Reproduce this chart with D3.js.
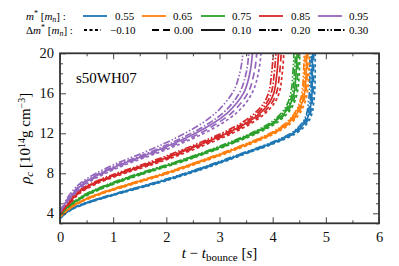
<!DOCTYPE html>
<html>
<head>
<meta charset="utf-8">
<script src="https://cdn.jsdelivr.net/npm/d3@7"></script>
<style>
  body { margin: 0; background: #fff; }
  .axis path { display: none; }
  .axis line { stroke: #444; stroke-width: 1; }
</style>
</head>
<body>
<div id="chart"></div>
<script>
var svgWidth = 399;
var svgHeight = 266;
var serif = "'Liberation Serif'";

var margin = { top: 53.3, right: 20, bottom: 43, left: 60 };
var width = 379 - margin.left;
var height = 223.3 - margin.top;

// effective masses (colours) and mass splittings (line styles)
var masses = ["0.55", "0.65", "0.75", "0.85", "0.95"];
var deltas = ["\u22120.10", "0.00", "0.10", "0.20", "0.30"];
var colors = ["#1f77b4", "#ff7f0e", "#2ca02c", "#d62728", "#9467bd"];
var dashes = ["3,2.5", "7,4", null, "7,2,1.5,2", "7,2,1.5,2,1.5,2"];

// central density at bounce (t = 0), one per mass
var rhoStart = [3.5, 3.65, 3.8, 3.95, 4.1];

var rhoGrid = [4.5, 5, 6, 7, 8, 9, 10, 11, 12, 13, 14, 15, 16, 18, 20];

// time after bounce [s] at each rhoGrid level, rows = deltas
var t055 = [
  [0.27, 0.51, 1.14, 1.83, 2.45, 3.00, 3.52, 4.04, 4.44, 4.65, 4.74, 4.77, 4.79, 4.80, 4.80],
  [0.26, 0.50, 1.12, 1.80, 2.42, 2.97, 3.49, 4.01, 4.41, 4.62, 4.71, 4.74, 4.76, 4.77, 4.77],
  [0.25, 0.48, 1.10, 1.78, 2.40, 2.95, 3.47, 3.99, 4.39, 4.60, 4.69, 4.72, 4.74, 4.745, 4.75],
  [0.24, 0.47, 1.08, 1.75, 2.37, 2.92, 3.44, 3.96, 4.36, 4.57, 4.66, 4.70, 4.72, 4.725, 4.73],
  [0.23, 0.45, 1.06, 1.73, 2.35, 2.90, 3.42, 3.94, 4.34, 4.55, 4.64, 4.67, 4.69, 4.70, 4.70]
];
var t065 = [
  [0.20, 0.35, 0.82, 1.43, 2.05, 2.60, 3.13, 3.62, 4.05, 4.34, 4.51, 4.60, 4.65, 4.68, 4.69],
  [0.19, 0.34, 0.80, 1.40, 2.02, 2.57, 3.10, 3.59, 4.02, 4.31, 4.48, 4.57, 4.62, 4.65, 4.66],
  [0.18, 0.33, 0.78, 1.38, 2.00, 2.55, 3.08, 3.57, 4.00, 4.29, 4.46, 4.55, 4.60, 4.63, 4.64],
  [0.17, 0.32, 0.76, 1.35, 1.97, 2.52, 3.05, 3.54, 3.97, 4.26, 4.43, 4.52, 4.57, 4.60, 4.61],
  [0.16, 0.31, 0.74, 1.33, 1.95, 2.50, 3.03, 3.52, 3.95, 4.24, 4.41, 4.50, 4.55, 4.58, 4.59]
];
var t075 = [
  [0.13, 0.26, 0.59, 1.05, 1.61, 2.21, 2.76, 3.26, 3.71, 4.06, 4.28, 4.40, 4.46, 4.50, 4.51],
  [0.12, 0.25, 0.57, 1.03, 1.58, 2.18, 2.73, 3.23, 3.68, 4.03, 4.25, 4.37, 4.43, 4.47, 4.48],
  [0.12, 0.24, 0.55, 1.00, 1.55, 2.15, 2.70, 3.20, 3.65, 4.00, 4.22, 4.34, 4.40, 4.44, 4.46],
  [0.11, 0.23, 0.53, 0.97, 1.52, 2.12, 2.67, 3.17, 3.62, 3.97, 4.19, 4.31, 4.37, 4.41, 4.43],
  [0.10, 0.22, 0.51, 0.95, 1.49, 2.09, 2.64, 3.14, 3.59, 3.94, 4.16, 4.28, 4.34, 4.38, 4.40]
];
var t085 = [
  [0.09, 0.19, 0.37, 0.71, 1.22, 1.81, 2.33, 2.80, 3.24, 3.60, 3.86, 4.03, 4.12, 4.18, 4.21],
  [0.085, 0.18, 0.35, 0.68, 1.18, 1.77, 2.28, 2.75, 3.19, 3.55, 3.81, 3.98, 4.07, 4.13, 4.16],
  [0.08, 0.17, 0.33, 0.65, 1.14, 1.72, 2.23, 2.70, 3.14, 3.50, 3.76, 3.93, 4.02, 4.08, 4.11],
  [0.075, 0.16, 0.31, 0.62, 1.10, 1.67, 2.18, 2.65, 3.09, 3.45, 3.71, 3.88, 3.97, 4.03, 4.06],
  [0.07, 0.15, 0.29, 0.59, 1.06, 1.62, 2.13, 2.60, 3.04, 3.40, 3.66, 3.83, 3.92, 3.98, 4.01]
];
var t095 = [
  [0.05, 0.12, 0.29, 0.51, 0.86, 1.30, 1.82, 2.29, 2.71, 3.05, 3.31, 3.49, 3.61, 3.73, 3.78],
  [0.045, 0.11, 0.27, 0.48, 0.82, 1.25, 1.76, 2.22, 2.63, 2.96, 3.22, 3.40, 3.53, 3.65, 3.70],
  [0.04, 0.10, 0.25, 0.45, 0.78, 1.20, 1.70, 2.15, 2.55, 2.88, 3.14, 3.32, 3.45, 3.57, 3.62],
  [0.035, 0.09, 0.23, 0.42, 0.74, 1.15, 1.64, 2.08, 2.47, 2.80, 3.06, 3.24, 3.37, 3.50, 3.55],
  [0.03, 0.08, 0.20, 0.38, 0.68, 1.07, 1.54, 1.97, 2.35, 2.67, 2.92, 3.10, 3.24, 3.38, 3.44]
];
var times = [t055, t065, t075, t085, t095];

var xTicks = [0, 1, 2, 3, 4, 5, 6];
var yTicks = [4, 8, 12, 16, 20];

var svg = d3.select("#chart")
  .append("svg")
  .attr("width", svgWidth)
  .attr("height", svgHeight);

svg.append("rect").attr("width", svgWidth).attr("height", svgHeight).attr("fill", "#fff");

var chartGroup = svg.append("g")
  .attr("transform", `translate(${margin.left}, ${margin.top})`);

var xScale = d3.scaleLinear().domain([0, 6]).range([0, width]);
var yScale = d3.scaleLinear().domain([3, 20]).range([height, 0]);

svg.append("defs").append("clipPath").attr("id", "clip")
  .append("rect").attr("width", width).attr("height", height);

// curves
var line = d3.line()
  .x(d => xScale(d[0]))
  .y(d => yScale(d[1]))
  .curve(d3.curveMonotoneY);

var curveGroup = chartGroup.append("g").attr("clip-path", "url(#clip)");

masses.forEach(function(m, i) {
  deltas.forEach(function(dm, j) {
    var pts = [[0, rhoStart[i]]];
    rhoGrid.forEach(function(r, k) { pts.push([times[i][j][k], r]); });
    curveGroup.append("path")
      .datum(pts)
      .attr("d", line)
      .attr("fill", "none")
      .attr("stroke", colors[i])
      .attr("stroke-width", 1.7)
      .attr("stroke-dasharray", dashes[j]);
  });
});

// axes: ticks pointing inwards on all four sides
var xMinor = d3.range(0.5, 6, 1);
var yMinor = d3.range(3, 21, 1).filter(v => yTicks.indexOf(v) < 0);

function styleAxis(g) {
  g.selectAll("text")
    .style("font-family", serif)
    .style("font-size", "14.5px")
    .attr("fill", "#111");
}

chartGroup.append("g").attr("class", "axis")
  .attr("transform", `translate(0, ${height})`)
  .call(d3.axisBottom(xScale).tickValues(xTicks).tickSizeInner(-6).tickSizeOuter(0).tickPadding(8).tickFormat(d3.format("d")))
  .call(styleAxis);
chartGroup.append("g").attr("class", "axis")
  .attr("transform", `translate(0, ${height})`)
  .call(d3.axisBottom(xScale).tickValues(xMinor).tickSize(-3).tickFormat(""));
chartGroup.append("g").attr("class", "axis")
  .call(d3.axisTop(xScale).tickValues(xTicks).tickSize(-6).tickFormat(""));
chartGroup.append("g").attr("class", "axis")
  .call(d3.axisTop(xScale).tickValues(xMinor).tickSize(-3).tickFormat(""));

chartGroup.append("g").attr("class", "axis")
  .call(d3.axisLeft(yScale).tickValues(yTicks).tickSizeInner(-6).tickSizeOuter(0).tickPadding(6).tickFormat(d3.format("d")))
  .call(styleAxis);
chartGroup.append("g").attr("class", "axis")
  .call(d3.axisLeft(yScale).tickValues(yMinor).tickSize(-3).tickFormat(""));
chartGroup.append("g").attr("class", "axis")
  .attr("transform", `translate(${width}, 0)`)
  .call(d3.axisRight(yScale).tickValues(yTicks).tickSize(-6).tickFormat(""));
chartGroup.append("g").attr("class", "axis")
  .attr("transform", `translate(${width}, 0)`)
  .call(d3.axisRight(yScale).tickValues(yMinor).tickSize(-3).tickFormat(""));

// frame
chartGroup.append("rect")
  .attr("width", width).attr("height", height)
  .attr("fill", "none").attr("stroke", "#333").attr("stroke-width", 1.8);

// model name
chartGroup.append("text")
  .attr("x", 16).attr("y", 30)
  .style("font-family", serif)
  .style("font-size", "15px")
  .text("s50WH07");

// x label
var xLabel = svg.append("text")
  .attr("x", margin.left + width / 2).attr("y", 258)
  .attr("text-anchor", "middle")
  .style("font-family", serif)
  .style("font-size", "15px");
xLabel.append("tspan").attr("font-style", "italic").text("t");
xLabel.append("tspan").text(" \u2212 ");
xLabel.append("tspan").attr("font-style", "italic").text("t");
xLabel.append("tspan").style("font-size", "11px").attr("dy", 3).text("bounce");
xLabel.append("tspan").attr("dy", -3).text(" [");
xLabel.append("tspan").attr("font-style", "italic").text("s");
xLabel.append("tspan").text("]");

// y label
var yLabel = svg.append("text")
  .attr("transform", `translate(30, ${margin.top + height / 2}) rotate(-90)`)
  .attr("text-anchor", "middle")
  .style("font-family", serif)
  .style("font-size", "15px");
yLabel.append("tspan").attr("font-style", "italic").text("\u03c1");
yLabel.append("tspan").attr("font-style", "italic").style("font-size", "11px").attr("dy", 3).text("c");
yLabel.append("tspan").attr("dy", -3).text(" [10");
yLabel.append("tspan").style("font-size", "10px").attr("dy", -5).text("14");
yLabel.append("tspan").attr("dy", 5).text("g cm");
yLabel.append("tspan").style("font-size", "10px").attr("dy", -5).text("\u22123");
yLabel.append("tspan").attr("dy", 5).text("]");

// legend
var legendGroup = svg.append("g");
var legRowY = [16, 30];
var lineX1 = [83, 142, 201, 259, 318];
var lineX2 = [107, 166, 225, 283, 342];
var labelX = [115, 173, 232, 291, 349];
var lineX1b = [84, 152, 201, 259, 318];
var lineX2b = [101, 172, 225, 283, 345];
var labelXb = [110, 174, 232, 291, 349];

function legTitle(y, prefix) {
  var t = legendGroup.append("text").attr("x", 26).attr("y", y + 3.5)
    .style("font-family", serif).style("font-size", "11px");
  if (prefix) t.append("tspan").text("\u0394");
  t.append("tspan").attr("font-style", "italic").text("m");
  t.append("tspan").style("font-size", "8px").attr("dy", -4).text("*");
  t.append("tspan").attr("dy", 4).text(" [");
  t.append("tspan").attr("font-style", "italic").text("m");
  t.append("tspan").attr("font-style", "italic").style("font-size", "8px").attr("dy", 2).text("n");
  t.append("tspan").attr("dy", -2).text("] :");
}
legTitle(legRowY[0], false);
legTitle(legRowY[1], true);

masses.forEach(function(m, i) {
  legendGroup.append("line")
    .attr("x1", lineX1[i]).attr("x2", lineX2[i])
    .attr("y1", legRowY[0]).attr("y2", legRowY[0])
    .attr("stroke", colors[i]).attr("stroke-width", 1.8);
  legendGroup.append("text")
    .attr("x", labelX[i]).attr("y", legRowY[0] + 3.5)
    .style("font-family", serif).style("font-size", "11px").text(m);
});
deltas.forEach(function(dm, j) {
  legendGroup.append("line")
    .attr("x1", lineX1b[j]).attr("x2", lineX2b[j])
    .attr("y1", legRowY[1]).attr("y2", legRowY[1])
    .attr("stroke", "#000").attr("stroke-width", 1.8)
    .attr("stroke-dasharray", dashes[j]);
  legendGroup.append("text")
    .attr("x", labelXb[j]).attr("y", legRowY[1] + 3.5)
    .style("font-family", serif).style("font-size", "11px").text(dm);
});
</script>
</body>
</html>
